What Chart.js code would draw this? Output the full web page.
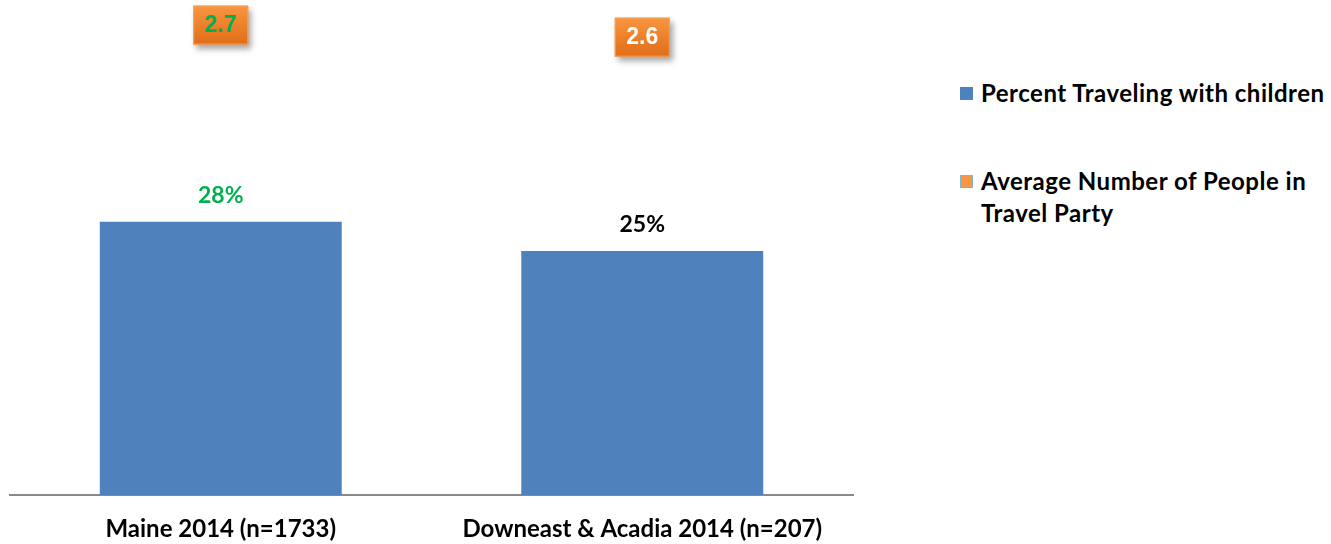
<!DOCTYPE html>
<html>
<head>
<meta charset="utf-8">
<script src="https://cdn.jsdelivr.net/npm/chart.js@4"></script>
<style>
  body { margin: 0; background: #fff; width: 1331px; height: 544px; overflow: hidden; position: relative; font-family: Lato, "Noto Sans", sans-serif; }
  #wrap { position: absolute; left: 0; top: 0; width: 880px; height: 544px; }
  #legend { position: absolute; left: 960px; top: 0; font-weight: bold; font-size: 24px; letter-spacing: 0.5px; color: #000; }
  .item { position: absolute; left: 0; white-space: nowrap; line-height: 32px; }
  .box { position: absolute; left: 0; width: 13px; height: 13px; }
  .txt { position: absolute; left: 21px; }
</style>
</head>
<body>
<div id="wrap"><canvas id="travelChart" width="880" height="544"></canvas></div>
<div id="legend"></div>
<script>
const categories = ['Maine 2014 (n=1733)', 'Downeast & Acadia 2014 (n=207)'];
const percentWithChildren = [28, 25];
const avgPartySize = [2.7, 2.6];
const percentLabelColors = ['#00b050', '#000000'];
const partyLabelColors = ['#00b050', '#ffffff'];
const seriesNames = ['Percent Traveling with children', 'Average Number of People in\nTravel Party'];

// percent labels above the bars
const barLabels = {
    id: 'barLabels',
    afterDatasetsDraw(chart) {
        const ctx = chart.ctx;
        const meta = chart.getDatasetMeta(0);
        ctx.save();
        ctx.font = 'bold 23px Lato, sans-serif';
        ctx.textAlign = 'center';
        ctx.textBaseline = 'middle';
        meta.data.forEach((bar, i) => {
            ctx.fillStyle = percentLabelColors[i];
            ctx.fillText(percentWithChildren[i] + '%', bar.x, bar.y - 26);
        });
        ctx.restore();
    }
};

// orange value boxes for the party size series
const partyBoxes = {
    id: 'partyBoxes',
    afterDatasetsDraw(chart) {
        const ctx = chart.ctx;
        const meta = chart.getDatasetMeta(1);
        const w = 55, h = 39;
        meta.data.forEach((pt, i) => {
            const x = pt.x - w / 2, y = pt.y - h / 2;
            ctx.save();
            ctx.shadowColor = 'rgba(0,0,0,0.35)';
            ctx.shadowBlur = 6;
            ctx.shadowOffsetX = 3;
            ctx.shadowOffsetY = 4;
            const g = ctx.createLinearGradient(0, y, 0, y + h);
            g.addColorStop(0, '#f9963f');
            g.addColorStop(1, '#e06d17');
            ctx.fillStyle = g;
            ctx.fillRect(x, y, w, h);
            ctx.restore();
            ctx.save();
            ctx.strokeStyle = '#f7a25c';
            ctx.lineWidth = 1;
            ctx.strokeRect(x + 0.5, y + 0.5, w - 1, h - 1);
            ctx.font = 'bold 23px "Liberation Sans", Arial, sans-serif';
            ctx.textAlign = 'center';
            ctx.textBaseline = 'middle';
            ctx.fillStyle = partyLabelColors[i];
            ctx.fillText(avgPartySize[i].toFixed(1), pt.x, pt.y + 1);
            ctx.restore();
        });
    }
};

const travelChart = new Chart(document.querySelector('#travelChart'), {
    type: 'bar',
    data: {
        labels: categories,
        datasets: [{
            label: seriesNames[0],
            data: percentWithChildren,
            backgroundColor: '#4f81bd',
            barPercentage: 0.574,
            categoryPercentage: 1,
            yAxisID: 'y',
            order: 2
        }, {
            type: 'line',
            label: seriesNames[1],
            data: avgPartySize,
            showLine: false,
            pointRadius: 0,
            backgroundColor: '#f79646',
            yAxisID: 'y1',
            order: 1
        }]
    },
    options: {
        responsive: false,
        animation: false,
        layout: { padding: { left: 10, right: 27, top: 7, bottom: 0 } },
        plugins: { legend: { display: false }, tooltip: { enabled: false } },
        scales: {
            x: {
                grid: { display: false, drawTicks: false },
                border: { color: '#898989', width: 2 },
                ticks: {
                    color: '#000',
                    font: { family: 'Lato', size: 24, weight: 'bold' },
                    padding: 20,
                    maxRotation: 0,
                    autoSkip: false
                },
                afterFit(scale) {
                    scale.height = 49;
                }
            },
            y: {
                display: false,
                min: 0,
                max: 50
            },
            y1: {
                display: false,
                min: -1.2,
                max: 2.85
            }
        }
    },
    plugins: [barLabels, partyBoxes]
});

// legend to the right of the plot
const legendColors = [
    { fill: '#4f81bd', border: '#4f81bd' },
    { fill: '#f79646', border: '#7fb6cf' }
];
const legendTops = [77, 165];
const legendEl = document.querySelector('#legend');
seriesNames.forEach((name, i) => {
    const item = document.createElement('div');
    item.className = 'item';
    item.style.top = legendTops[i] + 'px';
    const box = document.createElement('div');
    box.className = 'box';
    box.style.top = '10px';
    box.style.background = legendColors[i].fill;
    box.style.boxShadow = 'inset 0 0 0 1px ' + legendColors[i].border;
    const txt = document.createElement('div');
    txt.className = 'txt';
    txt.innerHTML = name.replace('\n', '<br>');
    item.appendChild(box);
    item.appendChild(txt);
    legendEl.appendChild(item);
});
</script>
</body>
</html>
